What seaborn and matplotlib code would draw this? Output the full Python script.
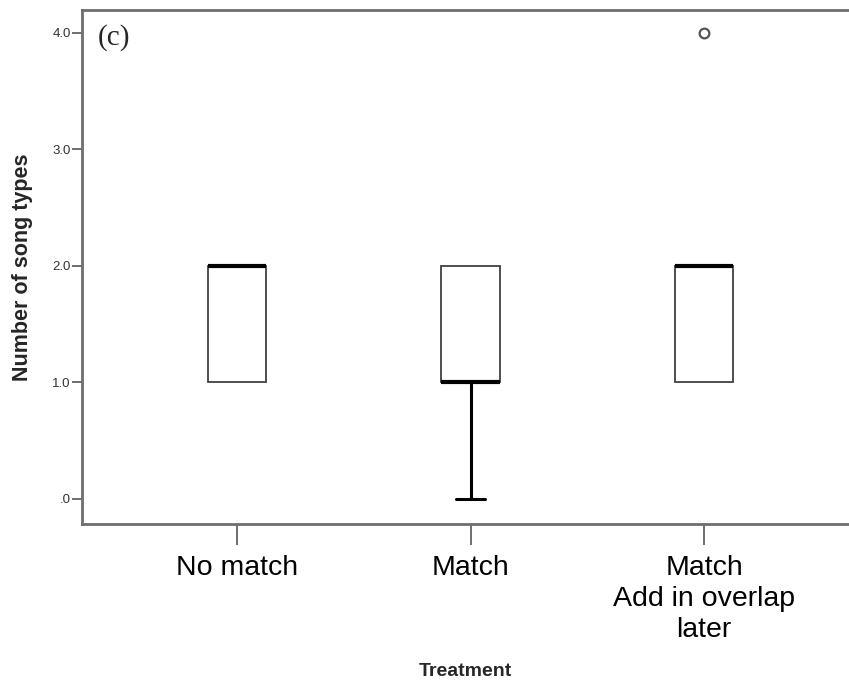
import numpy as np
import pandas as pd
import matplotlib
matplotlib.use("Agg")
import matplotlib.pyplot as plt
import seaborn as sns

# values (raw counts that give the same quartiles)
treatments = ["No match", "Match", "Match\nAdd in overlap\nlater"]
no_match = [1, 1, 1, 2, 2, 2, 2, 2]
match = [0, 1, 1, 1, 1, 2, 2, 2]
match_later = [1, 1, 1, 2, 2, 2, 2, 2, 4]
yticks = [0, 1, 2, 3, 4]
ytick_labels = [".0", "1.0", "2.0", "3.0", "4.0"]

df = pd.DataFrame({
    "Treatment": [treatments[0]] * len(no_match) + [treatments[1]] * len(match)
                 + [treatments[2]] * len(match_later),
    "songs": no_match + match + match_later,
})

sns.set_theme(style="white")
plt.rcParams["font.family"] = ["Liberation Sans", "DejaVu Sans"]

fig = plt.figure(figsize=(8.49, 6.84), dpi=100)
ax = fig.add_axes([82 / 849, 1 - 524 / 684, 1 - 82 / 849, 514 / 684])

sns.boxplot(data=df, x="Treatment", y="songs", order=treatments, ax=ax,
            width=0.25, color="white", linecolor="#333333", linewidth=1.3,
            boxprops=dict(edgecolor="#404040", linewidth=1.3),
            medianprops=dict(color="black", linewidth=3),
            whiskerprops=dict(color="black", linewidth=2.2),
            capprops=dict(color="black", linewidth=2.2),
            flierprops=dict(marker="o", markerfacecolor="none",
                            markeredgecolor="#555555", markersize=7,
                            markeredgewidth=1.6))

# SPSS draws no whisker/cap when the whisker has zero length
for cont in ax.containers:
    if hasattr(cont, "whiskers"):
        for w, c in zip(cont.whiskers, cont.caps):
            yd = w.get_ydata()
            if yd[0] == yd[1]:
                w.set_visible(False)
                c.set_visible(False)

ax.set_xlim(-0.664, 2.621)
ax.set_ylim(-0.215, 4.197)
ax.set_yticks(yticks)
ax.set_yticklabels(ytick_labels)

for side in ["left", "top", "bottom"]:
    ax.spines[side].set_color("#6e6e6e")
    ax.spines[side].set_linewidth(2)
ax.spines["right"].set_visible(False)

ax.tick_params(axis="y", length=7, width=1.2, color="#555555", labelsize=9.5,
               labelcolor="#333333", pad=1, left=True)
ax.tick_params(axis="x", length=15, width=1.2, color="#555555", labelsize=20.5,
               labelcolor="black", pad=7, bottom=True)
for lab in ax.get_xticklabels():
    lab.set_linespacing(1.25)

ax.set_ylabel("Number of song types", fontsize=15.5, fontweight="bold")
ax.set_xlabel("Treatment", fontsize=14, fontweight="bold", labelpad=15)
ax.yaxis.set_label_coords(-0.064, 0.5)

ax.text(0.02, 0.972, "(c)", transform=ax.transAxes, ha="left", va="top",
        fontsize=21, family="Liberation Serif")

fig.savefig("out.png", dpi=100, facecolor="white")
